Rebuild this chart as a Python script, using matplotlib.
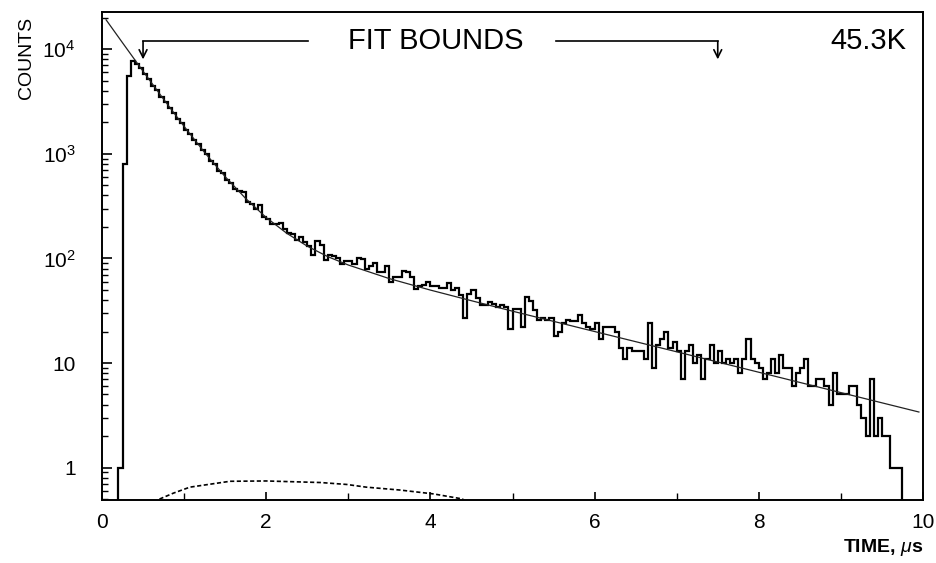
import numpy as np
import matplotlib
matplotlib.use("Agg")
import matplotlib.pyplot as plt

plt.rcParams['font.family'] = ['Liberation Sans', 'DejaVu Sans']
plt.rcParams['mathtext.fontset'] = 'custom'
plt.rcParams['mathtext.rm'] = 'Liberation Sans'
plt.rcParams['mathtext.it'] = 'Liberation Sans:italic'

# histogram counts, 0.05 us bins starting at t = 0
bin_width = 0.05
counts = [
    0, 0, 0, 0, 1, 800, 5500, 7700, 7300, 6600,
    5750, 5150, 4480, 4050, 3500, 3160, 2750, 2480, 2150, 1960,
    1700, 1550, 1350, 1240, 1080, 990, 860, 800, 690, 650,
    560, 530, 460, 440, 430, 345, 335, 300, 325, 250,
    240, 215, 212, 218, 190, 176, 170, 150, 160, 145,
    130, 107, 148, 135, 96, 107, 105, 100, 89, 94,
    94, 89, 100, 98, 80, 84, 91, 74, 74, 85,
    59, 66, 66, 76, 74, 66, 51, 55, 56, 59,
    55, 54, 52, 52, 58, 50, 52, 45, 27, 46,
    50, 42, 36, 36, 38, 37, 34, 36, 34, 21,
    33, 33, 22, 43, 39, 32, 26, 27, 26, 27,
    18, 20, 24, 26, 25, 25, 29, 24, 22, 21,
    24, 17, 22, 22, 22, 20, 14, 11, 14, 13,
    13, 13, 11, 24, 9, 15, 17, 20, 14, 16,
    13, 7, 13, 15, 10, 12, 7, 11, 15, 10,
    13, 10, 11, 10, 11, 8, 11, 17, 11, 10,
    9, 7, 8, 11, 8, 12, 9, 9, 6, 8,
    9, 11, 6, 6, 7, 7, 6, 4, 8, 5,
    5, 5, 6, 6, 4, 3, 2, 7, 2, 3,
    2, 2, 1, 1, 1, 0, 0, 0, 0, 0,
]

# fitted curve
fit_t = [0.05, 0.25, 0.5, 0.75, 1.0, 1.25, 1.5, 1.75, 2.0, 2.25, 2.5, 2.75,
         3.0, 3.5, 4.0, 4.5, 5.0, 6.0, 7.0, 8.0, 9.0, 9.95]
fit_y = [19100, 11530, 6160, 3330, 1830, 1030, 605, 374, 246, 174, 131, 104,
         86.5, 64.1, 49.8, 39.4, 31.3, 20.0, 12.8, 8.16, 5.21, 3.40]

# dotted component near the bottom
bg_t = [0.70, 0.87, 1.07, 1.35, 1.56, 2.0, 2.66, 2.98, 3.22, 3.63, 4.04, 4.40]
bg_y = [0.50, 0.57, 0.65, 0.70, 0.74, 0.745, 0.72, 0.69, 0.65, 0.61, 0.56, 0.50]

fit_bounds = [0.5, 7.5]
temperature = "45.3K"

yticks = [1, 10, 100, 1000, 10000]
yticklabels = ['1', '10', r'$10^{2}$', r'$10^{3}$', r'$10^{4}$']
xticks = [0, 2, 4, 6, 8, 10]

fig = plt.figure(figsize=(9.36, 5.63), dpi=100)
ax = fig.add_axes([102/936, 63/563, 821/936, 488/563])

counts = np.array(counts, dtype=float)
edges = np.arange(len(counts) + 1) * bin_width
shown = np.where(counts > 0, counts, 1e-3)
ax.stairs(shown, edges, baseline=None, color='black', lw=1.6)

ax.plot(fit_t, fit_y, color='#222222', lw=0.9)
ax.plot(bg_t, bg_y, color='black', lw=1.2, linestyle=(0, (2.5, 1.5)))

ax.set_yscale('log')
ax.set_xlim(0, 10)
ax.set_ylim(0.49, 22700)

ax.set_yticks(yticks)
ax.set_yticklabels(yticklabels)
ax.set_xticks(xticks)
ax.set_xticks([1, 3, 5, 7, 9], minor=True)
ax.tick_params(which='both', direction='in', top=False, right=False)
ax.tick_params(axis='y', which='major', length=7, width=1.2, pad=19, labelsize=15)
ax.tick_params(axis='y', which='minor', length=4, width=1.0)
ax.tick_params(axis='x', which='major', length=6, width=1.2, pad=9, labelsize=15)
ax.tick_params(axis='x', which='minor', length=5, width=1.0)
for s in ax.spines.values():
    s.set_linewidth(1.4)

# fit bounds bracket
y_br = 11900
y_tip = 8000
ax.plot([fit_bounds[0], 2.51], [y_br, y_br], color='black', lw=1.2)
ax.plot([5.53, fit_bounds[1]], [y_br, y_br], color='black', lw=1.2)
for b in fit_bounds:
    ax.annotate('', xy=(b, y_tip), xytext=(b, y_br),
                arrowprops=dict(arrowstyle='->', lw=1.2, color='black',
                                shrinkA=0, shrinkB=0, mutation_scale=14))
ax.text(4.07, y_br, "FIT BOUNDS", fontsize=21, ha='center', va='center')
ax.text(9.80, y_br, temperature, fontsize=21, ha='right', va='center')

fig.text(26/936, 1 - 58/563, "COUNTS", rotation=90, fontsize=14,
         ha='center', va='center')
fig.text(923/936, 1 - 548/563, r"TIME, $\mu$s", fontsize=14, fontweight='bold',
         ha='right', va='center')

fig.savefig("out.png", dpi=100)
